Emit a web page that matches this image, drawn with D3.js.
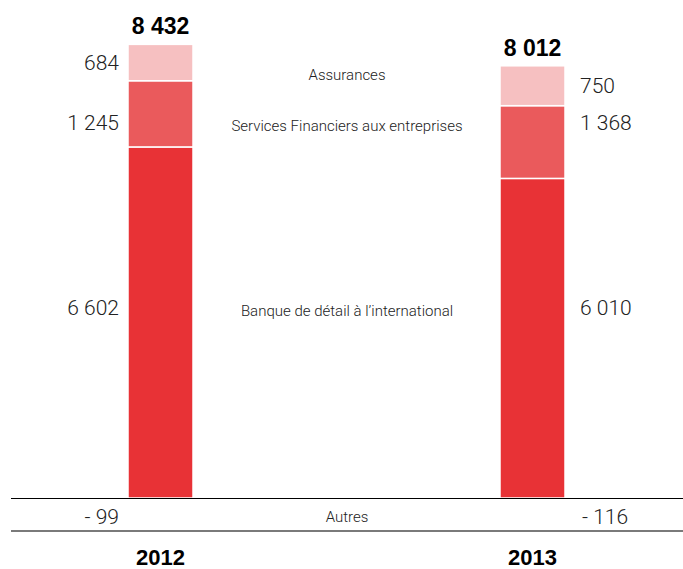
<!DOCTYPE html>
<html><head><meta charset="utf-8">
<script src="https://cdn.jsdelivr.net/npm/d3@7"></script>
<style>body{margin:0;background:#fff}svg{display:block}</style>
</head><body>
<script>
const years = ["2012", "2013"];
const categories = ["Banque de détail à l’international", "Services Financiers aux entreprises", "Assurances"];
const banque = [6602, 6010];
const services = [1245, 1368];
const assurances = [684, 750];
const autres = [-99, -116];
const colors = ["#E83236", "#EA5A5C", "#F6C0C1"];

const W = 683, H = 569;
const svg = d3.select("body").append("svg").attr("width", W).attr("height", H);
const lightFont = "Roboto, 'Helvetica Neue', 'Liberation Sans', Arial, sans-serif";
const boldFont = "'Liberation Sans', Helvetica, Arial, sans-serif";

const x = d3.scalePoint().domain(years).range([160.5, 532.5]);
const y = d3.scaleLinear().domain([0, 8600]).range([498, 40.7]);
const barW = 65;

const series = [banque, services, assurances];
const rows = years.map((yr, i) => {
  const obj = {year: yr};
  categories.forEach((c, k) => obj[c] = series[k][i]);
  return obj;
});
const stack = d3.stack().keys(categories)(rows);

const fmt = v => (v < 0 ? "- " : "") + d3.format(",")(Math.abs(v)).replace(/,/g, " ");

// bars
stack.forEach((layer, k) => {
  svg.append("g").selectAll("rect").data(layer).join("rect")
    .attr("x", d => x(d.data.year) - barW / 2)
    .attr("width", barW)
    .attr("y", d => y(d[1]))
    .attr("height", d => y(d[0]) - y(d[1]))
    .attr("fill", colors[k])
    .attr("stroke", "#fff").attr("stroke-width", 1.5);
});

// baseline and bottom line
svg.append("line").attr("x1", 11).attr("x2", W).attr("y1", y(0) + 0.5).attr("y2", y(0) + 0.5)
  .attr("stroke", "#000").attr("stroke-width", 1.2);
svg.append("line").attr("x1", 11).attr("x2", W).attr("y1", 531).attr("y2", 531)
  .attr("stroke", "#7a7a7a").attr("stroke-width", 2);

const valY = (k, i) => {
  const layer = stack[k][i];
  if (k === 0) return 315;
  if (k === 1) return 130;
  return (y(layer[0]) + y(layer[1])) / 2 + 7;
};
const catY = [316, 131, 80];

series.forEach((s, k) => {
  s.forEach((v, i) => {
    const left = i === 0;
    svg.append("text")
      .attr("x", left ? x(years[i]) - barW / 2 - 9 : x(years[i]) + barW / 2 + 15)
      .attr("y", valY(k, i))
      .attr("text-anchor", left ? "end" : "start")
      .attr("font-family", lightFont).attr("font-weight", 300).attr("font-size", 21)
      .attr("fill", "#222").text(fmt(v));
  });
  svg.append("text").attr("x", 347).attr("y", catY[k]).attr("text-anchor", "middle")
    .attr("font-family", lightFont).attr("font-weight", 300).attr("font-size", 15)
    .attr("fill", "#222").text(categories[k]);
});

autres.forEach((v, i) => {
  const left = i === 0;
  svg.append("text")
    .attr("x", left ? x(years[i]) - barW / 2 - 9 : x(years[i]) + barW / 2 + 17)
    .attr("y", 524)
    .attr("text-anchor", left ? "end" : "start")
    .attr("font-family", lightFont).attr("font-weight", 300).attr("font-size", 21)
    .attr("fill", "#222").text(fmt(v));
});
svg.append("text").attr("x", 347).attr("y", 522).attr("text-anchor", "middle")
  .attr("font-family", lightFont).attr("font-weight", 300).attr("font-size", 15)
  .attr("fill", "#222").text("Autres");

years.forEach((yr, i) => {
  const top = banque[i] + services[i] + assurances[i];
  const total = top + autres[i];
  svg.append("text").attr("x", x(yr)).attr("y", y(top) - 10)
    .attr("text-anchor", "middle").attr("font-family", boldFont).attr("font-weight", 700)
    .attr("font-size", 23).attr("fill", "#000").text(fmt(total));
  svg.append("text").attr("x", x(yr)).attr("y", 565)
    .attr("text-anchor", "middle").attr("font-family", boldFont).attr("font-weight", 700)
    .attr("font-size", 22).attr("fill", "#000").text(yr);
});
</script>
</body></html>
